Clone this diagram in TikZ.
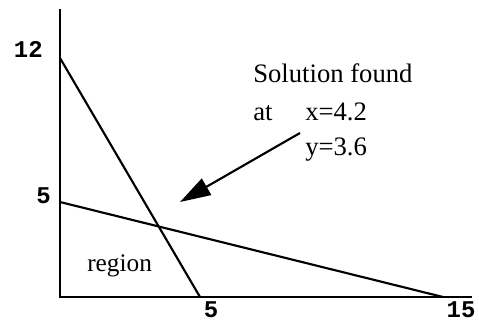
\documentclass[tikz,border=0pt]{standalone}
\usepackage{fontspec}
\setmainfont{Liberation Serif}
\newfontfamily\monofam{Liberation Mono}
\usetikzlibrary{arrows.meta}
\begin{document}
\begin{tikzpicture}[x=0.75pt,y=-0.75pt,
  axis/.style={line width=1.8pt},
  graphline/.style={line width=1.6pt},
  ticklab/.style={inner sep=0pt,font=\monofam\bfseries\fontsize{18}{20}\selectfont},
  txt/.style={inner sep=0pt,anchor=base west,font=\fontsize{20}{22}\selectfont},
  pointer/.style={line width=1.6pt,-{Triangle[length=23pt,width=14pt]}}]
\useasboundingbox (0,0) rectangle (479,322);
% axes
\coordinate (top) at (60,9);
\coordinate (origin) at (60,297);
\coordinate (right) at (472,297);
\draw[axis] (top) -- (origin) -- (right);
% constraint lines
\coordinate (y12) at (60,58);
\coordinate (x5) at (200,297);
\coordinate (y5) at (60,202);
\coordinate (x15) at (443,297);
\draw[graphline] (y12) -- (x5);
\draw[graphline] (y5) -- (x15);
% tick labels
\node[ticklab,anchor=base east] (l12) at (43,57) {12};
\node[ticklab,anchor=base east] (l5y) at (51,203) {5};
\node[ticklab,anchor=base] (l5x) at (211,317) {5};
\node[ticklab,anchor=base] (l15) at (461,317) {15};
% texts
\node[txt,font=\fontsize{19}{21}\selectfont] (region) at (87,271) {region};
\node[txt] (sol) at (253,82) {Solution found};
\node[txt] (at) at (253,120) {at};
\node[txt] (xv) at (305,120) {x=4.2};
\node[txt] (yv) at (305,155) {y=3.6};
% arrow
\coordinate (tail) at (300,133);
\coordinate (tip) at (180,202);
\draw[pointer] (tail) -- (tip);
\end{tikzpicture}
\end{document}
